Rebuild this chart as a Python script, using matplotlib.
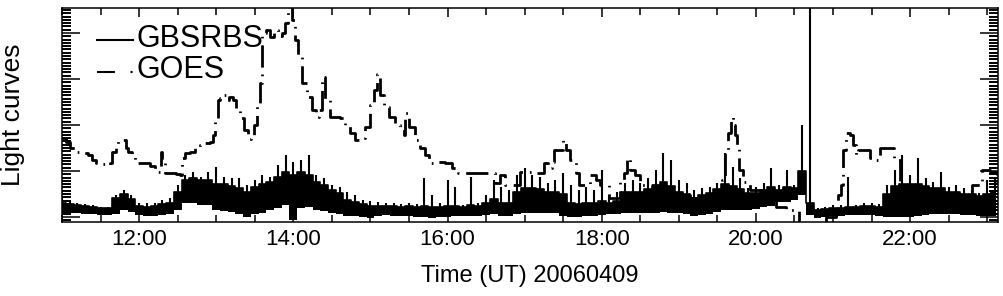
import numpy as np
import matplotlib
matplotlib.use("Agg")
from matplotlib import pyplot as plt
from matplotlib.ticker import MultipleLocator, FixedLocator, FuncFormatter

plt.rcParams['font.family'] = ['Liberation Sans', 'DejaVu Sans']

# GBSRBS, 6-minute bins starting 11:00 UT:
# spike tops, top of the dense band, and lower envelope
gb_start = 11.0
gb_step = 0.1
gb_hi = [0.41, 0.37, 0.30, 0.28, 0.26, 0.22, 0.22, 0.48, 0.59, 0.48,
         0.30, 0.30, 0.30, 0.37, 0.41, 0.70, 0.91, 0.98, 0.87, 0.98,
         1.09, 0.87, 0.85, 0.85, 0.70, 0.80, 0.91, 0.87, 1.13, 1.35,
         1.20, 1.24, 1.35, 0.91, 0.85, 0.70, 0.65, 0.54, 0.48, 0.37,
         0.35, 0.33, 0.30, 0.30, 0.28, 0.30, 0.28, 0.85, 0.48, 0.30,
         0.80, 0.65, 0.26, 0.87, 0.30, 0.48, 0.80, 0.65, 0.59, 0.91,
         1.07, 0.91, 0.87, 0.74, 0.80, 0.96, 0.70, 0.59, 0.65, 0.59,
         1.02, 0.48, 0.54, 0.74, 0.80, 0.74, 0.85, 1.02, 1.39, 1.24,
         0.80, 0.74, 0.59, 0.63, 0.65, 0.74, 1.39, 1.09, 0.85, 0.63,
         0.65, 0.74, 1.07, 0.70, 1.02, 0.70, 2.00, 6.00, 0.20, 0.22,
         0.26, 0.26, 0.87, 0.26, 0.30, 0.30, 0.28, 0.70, 1.02, 1.35,
         0.91, 1.28, 0.85, 0.76, 0.98, 0.65, 0.70, 0.63, 0.59, 0.52,
         0.80, 0.85]
gb_band = [0.30, 0.28, 0.26, 0.24, 0.22, 0.20, 0.20, 0.42, 0.50, 0.40,
           0.24, 0.22, 0.24, 0.28, 0.30, 0.55, 0.80, 0.85, 0.80, 0.80,
           0.72, 0.72, 0.68, 0.62, 0.55, 0.65, 0.72, 0.76, 0.88, 0.98,
           0.92, 0.98, 0.92, 0.76, 0.70, 0.58, 0.52, 0.38, 0.32, 0.28,
           0.24, 0.24, 0.24, 0.24, 0.22, 0.24, 0.22, 0.24, 0.22, 0.22,
           0.24, 0.24, 0.22, 0.26, 0.24, 0.30, 0.40, 0.30, 0.30, 0.55,
           0.62, 0.62, 0.60, 0.55, 0.55, 0.50, 0.30, 0.28, 0.30, 0.30,
           0.35, 0.30, 0.35, 0.55, 0.55, 0.55, 0.60, 0.68, 0.75, 0.68,
           0.55, 0.50, 0.42, 0.48, 0.52, 0.60, 0.72, 0.68, 0.60, 0.52,
           0.52, 0.58, 0.65, 0.58, 0.65, 0.62, 1.00, 0.30, 0.15, 0.18,
           0.20, 0.20, 0.22, 0.22, 0.24, 0.24, 0.22, 0.50, 0.68, 0.72,
           0.72, 0.72, 0.68, 0.62, 0.62, 0.55, 0.55, 0.50, 0.50, 0.45,
           0.50, 0.55]
gb_lo = [0.09, 0.09, 0.09, 0.07, 0.07, 0.04, 0.04, 0.07, 0.15, 0.11,
         0.04, 0.02, 0.02, 0.04, 0.07, 0.15, 0.30, 0.30, 0.26, 0.26,
         0.15, 0.13, 0.11, 0.07, 0.00, 0.07, 0.09, 0.15, 0.20, 0.26,
         -0.07, 0.20, 0.22, 0.15, 0.13, 0.09, 0.07, 0.02, 0.02, 0.00,
         -0.02, 0.02, 0.04, 0.02, 0.02, 0.02, 0.00, 0.00, -0.02, 0.00,
         0.00, 0.02, 0.02, 0.02, 0.02, 0.04, 0.07, 0.02, 0.02, 0.07,
         0.09, 0.09, 0.09, 0.09, 0.09, 0.02, 0.00, 0.00, 0.02, 0.02,
         0.04, 0.07, 0.07, 0.09, 0.09, 0.09, 0.09, 0.09, 0.11, 0.09,
         0.09, 0.07, 0.02, 0.04, 0.07, 0.11, 0.15, 0.15, 0.15, 0.15,
         0.17, 0.22, 0.24, 0.33, 0.33, 0.37, 0.48, 0.04, -0.02, 0.00,
         0.02, 0.02, 0.04, 0.04, 0.04, 0.04, 0.02, 0.00, 0.00, 0.00,
         0.00, 0.02, 0.04, 0.07, 0.07, 0.07, 0.07, 0.04, 0.04, 0.02,
         0.02, 0.02]

# GOES light curve (hours UT, normalised flux)
goes_t = [11.00, 11.05, 11.11, 11.17, 11.23, 11.34, 11.39, 11.44, 11.52, 11.57,
          11.62, 11.65, 11.70, 11.73, 11.82, 11.83, 11.86, 11.91, 11.95, 11.99,
          12.06, 12.14, 12.21, 12.23, 12.27, 12.29, 12.30, 12.34, 12.40, 12.48,
          12.53, 12.56, 12.60, 12.66, 12.73, 12.79, 12.86, 12.92, 12.96, 12.99,
          13.02, 13.05, 13.09, 13.13, 13.17, 13.22, 13.26, 13.31, 13.36, 13.41,
          13.45, 13.49, 13.53, 13.57, 13.60, 13.65, 13.70, 13.75, 13.80, 13.85,
          13.89, 13.93, 13.96, 13.98, 14.02, 14.06, 14.11, 14.18, 14.24, 14.30,
          14.33, 14.37, 14.41, 14.48, 14.61, 14.67, 14.74, 14.80, 14.87, 14.93,
          15.00, 15.05, 15.09, 15.13, 15.18, 15.24, 15.32, 15.39, 15.43, 15.45,
          15.50, 15.58, 15.64, 15.71, 15.76, 15.84, 15.97, 16.06, 16.14, 16.32,
          16.42, 16.55, 16.62, 16.68, 16.75, 16.92, 16.94, 17.10, 17.20, 17.25,
          17.30, 17.36, 17.38, 17.49, 17.50, 17.54, 17.59, 17.67, 17.71, 17.80,
          17.85, 17.93, 17.98, 18.10, 18.19, 18.24, 18.29, 18.33, 18.37, 18.43,
          18.50, 18.63, 18.76, 18.89, 19.15, 19.28, 19.47, 19.56, 19.60, 19.64,
          19.68, 19.70, 19.73, 19.76, 19.78, 19.83, 19.92, 20.09, 20.26, 20.39,
          20.52, 20.56, 20.87, 20.91, 21.04, 21.07, 21.11, 21.13, 21.17, 21.22,
          21.26, 21.30, 21.33, 21.43, 21.48, 21.56, 21.61, 21.78, 21.79, 21.87,
          22.13, 22.52, 22.78, 22.80, 22.91, 22.93, 23.04, 23.13]
goes_v = [1.72, 1.63, 1.50, 1.41, 1.39, 1.35, 1.24, 1.17, 1.15, 1.13,
          1.17, 1.41, 1.57, 1.67, 1.67, 1.50, 1.41, 1.35, 1.24, 1.17,
          1.17, 1.11, 1.02, 0.98, 1.07, 1.41, 1.24, 0.96, 0.96, 0.93,
          0.91, 1.28, 1.39, 1.41, 1.50, 1.57, 1.61, 1.63, 1.78, 2.15,
          2.54, 2.59, 2.65, 2.54, 2.61, 2.54, 2.37, 2.15, 1.89, 1.70,
          1.72, 2.00, 2.43, 2.91, 4.00, 4.07, 3.91, 4.07, 3.93, 4.00,
          4.22, 4.54, 4.61, 4.28, 3.85, 3.52, 2.91, 2.61, 2.33, 2.17,
          2.33, 3.04, 2.54, 2.17, 2.15, 2.00, 1.83, 1.67, 1.72, 1.96,
          2.43, 2.76, 3.11, 2.65, 2.39, 2.17, 2.00, 1.96, 1.78, 2.26,
          1.96, 1.67, 1.50, 1.35, 1.17, 1.20, 1.17, 1.07, 0.96, 0.96,
          0.96, 0.96, 0.74, 0.91, 0.70, 0.70, 0.98, 0.96, 0.96, 1.17,
          1.07, 1.20, 1.46, 1.46, 1.67, 1.46, 1.24, 0.96, 0.70, 0.70,
          0.91, 0.80, 0.70, 0.41, 0.41, 0.80, 0.96, 1.28, 1.02, 0.91,
          0.70, 0.70, 0.59, 0.48, 0.41, 0.37, 0.48, 0.80, 1.39, 1.83,
          2.17, 2.00, 1.78, 1.52, 1.02, 0.76, 0.59, 0.37, 0.22, 0.15,
          0.15, -0.13, -0.15, 0.00, 0.04, 0.48, 0.70, 1.46, 1.83, 1.78,
          1.57, 1.35, 1.46, 1.46, 1.28, 1.24, 1.50, 1.50, 1.24, 0.70,
          0.48, 0.37, 0.48, 0.70, 0.70, 1.02, 0.98, 0.70]

tick_hours = [12, 14, 16, 18, 20, 22]

gb_t = gb_start + gb_step * np.arange(len(gb_hi))

fig = plt.figure(figsize=(10.04, 2.96), dpi=100)
ax = fig.add_axes([62 / 1004, 74 / 296, 936 / 1004, 214 / 296])

# GBSRBS: dense band plus spikes
ax.fill_between(gb_t, gb_lo, gb_band, step='mid', color='black', lw=0)
ax.plot(gb_t, gb_band, color='black', lw=1.2, drawstyle='steps-mid')
ax.vlines(gb_t, gb_lo, gb_hi, color='black', lw=1.5)

# GOES
ax.plot(goes_t, goes_v, color='black', lw=2.0, drawstyle='steps-post',
        linestyle=(0, (8, 2.5, 0.6, 2.5)))

ax.set_xlim(11.0, 23.14)
ax.set_ylim(-0.109, 4.543)
ax.xaxis.set_major_locator(FixedLocator(tick_hours))
ax.xaxis.set_minor_locator(MultipleLocator(0.5))
ax.xaxis.set_major_formatter(FuncFormatter(lambda v, p: '%d:00' % v))
ax.yaxis.set_major_locator(MultipleLocator(1))
ax.yaxis.set_minor_locator(MultipleLocator(1 / 14))
ax.yaxis.set_major_formatter(FuncFormatter(lambda v, p: ''))
ax.tick_params(which='both', direction='in', top=True, right=True, width=1.1)
ax.tick_params(axis='x', which='major', length=6.5, pad=5, labelsize=16)
ax.tick_params(axis='x', which='minor', length=5)
ax.tick_params(axis='y', which='major', length=13)
ax.tick_params(axis='y', which='minor', length=6.5, width=1.4)
for s in ax.spines.values():
    s.set_linewidth(1.1)

ax.set_xlabel('Time (UT) 20060409', fontsize=17)
ax.xaxis.set_label_coords(0.5, -0.2)
ax.set_ylabel('Light curves', fontsize=19)
ax.yaxis.set_label_coords(-0.040, 0.5)

# legend drawn by hand, like the original
ax.plot([0.0374, 0.0759], [0.850, 0.850], transform=ax.transAxes, color='black', lw=1.5)
ax.plot([0.0374, 0.0759], [0.701, 0.701], transform=ax.transAxes, color='black', lw=1.5,
        linestyle=(0, (8.6, 7.5, 1, 8)))
ax.text(0.0801, 0.818, 'GBSRBS', transform=ax.transAxes, fontsize=22, va='baseline')
ax.text(0.0801, 0.673, 'GOES', transform=ax.transAxes, fontsize=22, va='baseline')

fig.savefig('out.png', dpi=100)
